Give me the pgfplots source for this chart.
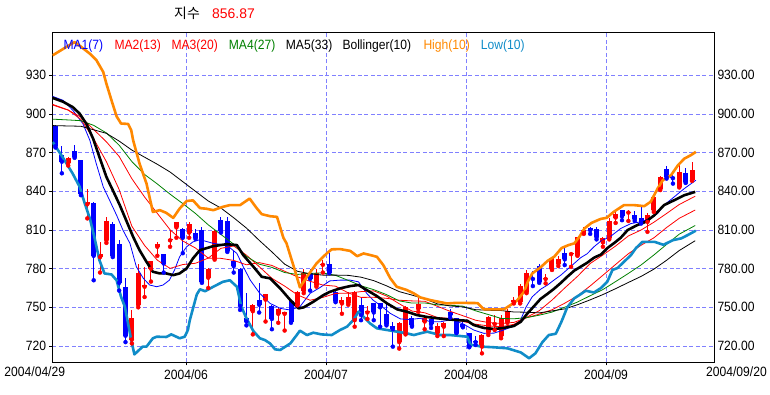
\documentclass[border=0pt]{standalone}
\usepackage{pgfplots}
\pgfplotsset{compat=1.18}
\usepackage{pgfplotstable}
\usepackage{fontspec}
\setmainfont{Liberation Sans}
\newfontfamily\labfont[FakeStretch=0.9]{Liberation Sans}
\newfontfamily\krfont{Noto Sans CJK KR}
\newcommand\tf{\labfont\fontsize{13.5}{15}\selectfont}
\definecolor{gridc}{RGB}{128,128,255}
\definecolor{maorange}{RGB}{255,136,0}
\definecolor{malow}{RGB}{16,140,200}
\definecolor{magreen}{RGB}{0,128,0}

% up candles (red): index open high low close
\pgfplotstableread{
i O H L C
2 862 866.5 860 866
5 830 842 819 832
7 789 801 777 791
8 802 820 800 817
12 725 748 722 742
13 752 784 750 777
14 766 781 758 767
15 780 786 770 786
16 797 801 790 799
18 802 810 797 803
19 812 816.5 804 816
21 808 816 804 815
24 773 780.5 765 780
25 788 810 787 809
31 747 752.5 729 752
33 756 760.5 739 760
35 745 749.5 738 749
36 745 746.5 732 746
38 752 763 751.5 762
39 763 780 761 777
41 767 780 766 777
42 783 787 777 784
45 753 758 745 756
46 753 762 752 758
47 740 762.5 735 762
49 746 751 741 747
54 723 739 718 738
55 730 751 729 750
57 749 757 746.5 752.5
58 739 742.5 733 741.5
60 730.3 738 727.7 735.5
61 735 738.5 727.7 738
67 719.5 729 714.3 728.5
68 730.6 743.3 728.5 742.2
69 737 744 732.4 738
70 727.7 744 726 741.5
71 738.8 748.5 738 747.4
72 754.3 758.2 753 756
73 754.3 768 753 766.5
74 762 779 761 776.8
77 772 776 768.6 773
78 779.4 789 779 788
79 784 789.5 782 787.2
81 791.3 793 781.4 792.3
82 790.5 804.5 790 804.2
83 807.5 812 807 810
86 800.4 804.7 797 803.5
87 803.5 819 802.7 817.1
88 819.7 825.3 815.5 822.8
90 823.5 825.3 817 824.2
93 816.3 823 808.6 821.5
94 825.4 836 824 835.7
95 841.7 852 841 851.2
98 843.5 861.6 843 855.1
100 848.6 862.9 848.1 856.87
}\upcandles

% down candles (blue)
\pgfplotstableread{
i O H L C
0 891 891.5 874 875
1 868 875 854 863
3 871 876 866 867
4 864 864.5 837 838
6 831 831.5 771 790
9 815 816 789 790
10 799 802 763 769
11 766 773 723 728
17 791 791.5 777 784
20 811 811.5 792 804
22 808 811 803 804
23 810 812 769 770
26 818 820 808 809
27 817 820 793 794
28 786 794 777 782
29 780 780.5 748 751
30 742 761 736 739
32 756 769 746 752
34 751 752 733 741
37 755 755.5 738 739
40 777 780 763 772
43 784 792 776.5 777
44 762 763 754 755
48 752 758 740 744
50 753 753.5 740 746
51 753 753.5 735 750
52 745 753 736 737
53 735.5 739 719.5 733
56 741.5 743 735 736
59 740.7 743 734 737
62 746.6 748.5 742 744
63 741.5 742 730 730.3
64 737 739 734.5 735
65 729.8 730.3 719 719.5
66 724 727.7 720.8 723
75 773 778.5 766.5 772
76 782 783.5 769 770
80 792.3 795.7 782.8 787.2
84 811.2 812.5 807 809.9
85 810.4 812.5 802.7 804.4
89 825.3 825.8 817.6 820.7
91 822 824.6 817 818.2
92 819.7 828 815 815.8
96 857.2 859.7 849.9 851.2
97 851.2 855.1 846 850.2
99 854.6 858.3 846.5 847.3
}\downcandles

\begin{document}
\begin{tikzpicture}
\path[use as bounding box] (0bp,0bp) rectangle (770bp,395bp);
\begin{axis}[
  at={(52.3bp,32.7bp)}, anchor=south west, scale only axis,
  width=662bp, height=330bp,
  xmin=-0.5, xmax=103.5, ymin=707.35, ymax=963.4,
  xtick={20.5,42.5,64.5,86.5},
  xticklabels={2004/06,2004/07,2004/08,2004/09},
  ytick={720,750,780,810,840,870,900,930},
  xtick pos=bottom, ytick pos=left,
  tick align=outside, major tick length=3bp,
  tick style={black, line width=0.8bp},
  xmajorgrids, ymajorgrids,
  major grid style={gridc, line width=0.8bp, dash pattern=on 4bp off 2.5bp},
  axis line style={line width=1.3bp},
  ticklabel style={font=\tf},
  xticklabel style={anchor=north, inner sep=0pt, yshift=-4.4bp},
  yticklabel style={anchor=east, inner sep=0pt, xshift=-3bp, /pgf/number format/assume math mode=true},
  clip=true,
]
% wicks
\addplot[only marks, mark=none, red, error bars/.cd, y dir=plus, y explicit, error mark=none,
  error bar style={line width=1bp, red}]
  table[x=i, y=L, y error plus expr={\thisrow{H}-\thisrow{L}}] {\upcandles};
\addplot[only marks, mark=none, blue, error bars/.cd, y dir=plus, y explicit, error mark=none,
  error bar style={line width=1bp, blue}]
  table[x=i, y=L, y error plus expr={\thisrow{H}-\thisrow{L}}] {\downcandles};
% bodies
\addplot[only marks, mark=none, red, error bars/.cd, y dir=plus, y explicit, error mark=none,
  error bar style={line width=5bp, red}]
  table[x=i, y=O, y error plus expr={\thisrow{C}-\thisrow{O}}] {\upcandles};
\addplot[only marks, mark=none, blue, error bars/.cd, y dir=plus, y explicit, error mark=none,
  error bar style={line width=5bp, blue}]
  table[x=i, y=C, y error plus expr={\thisrow{O}-\thisrow{C}}] {\downcandles};

% MA1(7)
\addplot[blue, line width=0.8bp] coordinates {
(-0.45,913.7) (1.2,910.6) (2.7,903) (4.3,892.6) (5.4,879.6) (6.4,861.6) (7.5,843.5) (8.5,833.1) (9.6,821.5) (10.6,809.9) (11.7,799.6) (12.7,781.5) (13.8,772.5) (14.8,767.3) (15.9,766) (16.9,767.3) (17.9,771.1) (18.7,778.9) (19.5,789.2) (20.6,797) (21.6,800.8) (22.7,802.5) (24.8,799.6) (26.9,798.3) (28.5,791.8) (29.5,781.5) (30.6,771.1) (32.1,760.8) (33.7,753.1) (35.3,749.2) (36.9,747.9) (38.4,750.5) (40,760.8) (41.6,765.5) (43.1,770.5) (44.7,771.1) (46.3,771.1) (47.6,769.8) (48.9,760.8) (49.9,755.6) (51.3,750.5) (52.6,745.3) (54.2,741) (55.7,740.5) (57.3,741.5) (58.9,738.8) (60.5,738.8) (62.2,740.5) (64.1,737) (65.7,732.4) (67.3,729.8) (68.9,730) (70.4,732.4) (72,735.5) (73.1,740.5) (73.9,750) (74.9,758.2) (76.2,764) (77.3,767.3) (78.3,771.1) (79.4,775) (80.9,781.5) (82.5,788.5) (83.5,791.5) (84.6,797) (85.7,801.5) (87.2,805) (88.8,811.2) (90.4,815) (91.9,816.3) (93.5,819) (94.6,822.8) (95.6,829.3) (97.2,835.7) (98.8,842.2) (100.6,848.6)};
% MA2(13)
\addplot[red, line width=0.8bp] coordinates {
(-0.45,907.5) (2,903.1) (4,895.8) (6,880.8) (8,863) (10,841.4) (12,812.9) (14,798) (16,786.6) (18,780.2) (20,783.2) (22,784.2) (24,788.2) (26,795.8) (28,797.6) (30,790.5) (32,781.6) (34,772.5) (36,766.5) (38,759.7) (40,755.5) (42,757.7) (44,760.8) (46,761) (48,762.2) (50,762.8) (52,758.8) (54,752.8) (56,747.1) (58,745.8) (60,742.1) (62,741.4) (64,739) (66,736.9) (68,735.6) (70,734.9) (72,736.8) (74,742.2) (76,747.4) (78,755.6) (80,765) (82,774) (84,784) (86,790.6) (88,797.6) (90,805.4) (92,810) (94,816) (96,822.8) (98,829.8) (100.5,836.2)};
% MA3(20)
\addplot[red, line width=0.8bp] coordinates {
(-0.45,907) (2,903) (4,897.6) (6,888) (8,878.4) (10,867.1) (12,849.8) (14,835.6) (16,822.9) (18,810.2) (20,801.5) (22,796) (24,788.2) (26,788) (28,786.4) (30,783) (32,784.7) (34,782.5) (36,778) (38,773.7) (40,770.2) (42,767.3) (44,766.4) (46,761.2) (48,757.7) (50,757.8) (52,757) (54,755.5) (56,755) (58,754.7) (60,750.8) (62,746.9) (64,743.5) (66,740) (68,738.2) (70,737.5) (72,738.3) (74,741.9) (76,744.7) (78,748.1) (80,753.2) (82,758.9) (84,766.6) (86,774.9) (88,783.3) (90,791.6) (92,798.2) (94,803.9) (96,811.9) (98,819.1) (100.5,825.5)};
% MA4(27)
\addplot[magreen, line width=0.8bp] coordinates {
(-0.45,896) (2,895.4) (4,894.8) (6,891.2) (8,885.3) (10,875.8) (12,863.1) (14,853.1) (16,845.7) (18,837.8) (20,830.5) (22,822.8) (24,814) (26,806.5) (28,799) (30,789.5) (32,783.5) (34,781) (36,777) (38,775.5) (40,776.4) (42,776.7) (44,774.8) (46,770.9) (48,766.7) (50,763.7) (52,759.9) (54,755) (56,753.3) (58,753.4) (60,751.9) (62,751.6) (64,750.9) (66,747.3) (68,744.4) (70,741.4) (72,741.1) (74,742) (76,743.9) (78,746.3) (80,750.1) (82,754.1) (84,759) (86,763.8) (88,770) (90,776.3) (92,782.9) (94,790.6) (96,798.8) (98,806.8) (100.5,813.5)};
% MA5(33)
\addplot[black, line width=0.8bp] coordinates {
(-0.45,891) (4,890.5) (8,885) (10,879) (12,872) (14,866.5) (16,861) (18,855) (20,847.5) (22,840) (24,832.5) (26,827) (28,819.5) (30,811.5) (32,802) (34,793) (36,783.5) (38,778) (40,776) (42,775) (44,775) (46,774.8) (48,773.4) (50,770.7) (52,766.7) (54,762.2) (56,759.5) (58,756.6) (60,752.7) (62,751.1) (64,750.3) (66,748.2) (68,747.7) (70,747.5) (72,746.4) (74,746.2) (76,745.7) (78,747.2) (80,748.8) (82,752) (84,755.8) (86,759.9) (88,764.5) (90,769.3) (92,774) (94,779.6) (96,786.5) (98,794.1) (100.5,801.7)};
% Bollinger(10) middle
\addplot[black, line width=2.6bp, line join=round] coordinates {
(-0.45,912.5) (1.2,909.5) (2.7,905.4) (3.8,900.3) (4.9,892) (5.9,881) (6.9,866.7) (8,851.2) (9,840.9) (10.1,829.3) (11.1,817.6) (12.2,804.7) (13.2,794.4) (14.3,785.3) (15.3,777.6) (16.4,776.3) (17.4,776.3) (18.5,775) (19.5,776.3) (20.6,780.2) (21.6,788) (22.7,794.4) (24.8,797.5) (26.9,799) (28.5,798.3) (29.5,790.5) (31.1,781.5) (32.4,773.7) (33.7,772.5) (35.3,764.7) (36.9,755.6) (38.2,749.2) (39,750) (40.5,754.3) (42.1,759.5) (43.1,762) (44.7,764.7) (46.3,766.5) (47.6,767.3) (48.9,763.4) (50.5,758.7) (52.1,753) (53.7,748.4) (55.2,746.6) (56.8,744) (58.4,742.5) (60,741.5) (61.5,740.7) (63.1,740.1) (64.7,739.6) (65.7,736.3) (67.3,734) (68.9,733.2) (70.4,734) (72,735.5) (73.1,738.8) (74.1,745) (75.2,751) (76.2,756.5) (77.3,760.5) (78.3,764.3) (79.4,769) (80.4,773.7) (81.5,778.5) (82.5,781.5) (83.5,784.5) (84.6,788.5) (85.7,791) (86.7,796) (87.8,800) (88.8,804) (89.9,810) (91.4,813.8) (92.7,816.3) (94.1,821.5) (95.6,829.3) (97.2,833.1) (98.8,837) (100.5,839.6)};
% High(10)
\addplot[maorange, line width=2.6bp, line join=round] coordinates {
(-0.45,945.5) (1.7,952) (3,955.8) (3.8,953) (5.4,946.8) (6.4,942) (7.5,932.6) (8,923.5) (8.8,910.6) (9.6,898.2) (10.3,892.6) (11.4,892.3) (11.9,887.4) (12.2,879.6) (13.2,861.6) (14.3,846) (15.3,824) (16.4,825.4) (17.4,823.3) (18.5,819.4) (19.5,826.6) (20.6,832.5) (21.6,833) (22.7,827) (23.7,826.5) (24.8,825.4) (26.3,828) (27.4,829.3) (29,829.3) (30.5,834.4) (31.6,827) (32.4,822.3) (33.7,820.7) (34.8,820.2) (35.8,804) (36.3,799.6) (37.6,778.9) (38.4,765.5) (39.5,773.7) (41,784) (42.6,791.8) (43.4,795) (44.7,795.2) (46.3,793.8) (47.4,789.7) (48.4,791.8) (49.5,790.5) (50.5,789.2) (51.5,782.8) (52.6,772.5) (53.6,766) (55.2,763.4) (56.3,760.8) (57.3,757.7) (58.9,755.6) (60.5,754) (61.5,753) (63.1,753.5) (66.3,753.3) (67.3,748.5) (69.4,748.4) (70.5,748.6) (71.5,751.8) (72.5,755.2) (73.6,762) (74.2,769.8) (74.9,776.3) (76.2,781) (77.3,786) (78.4,789.5) (79.5,796) (80.6,798.3) (81.5,799.6) (82.3,804.7) (83.1,811.2) (84.2,815.5) (85.6,818.5) (86.6,819.5) (87.7,824.1) (89.3,829.3) (90.9,829.3) (92.5,828.5) (93.5,831.9) (94.6,842.2) (95.4,848.6) (96.7,852.5) (97.8,860.3) (98.8,865.4) (99.8,868) (100.6,870.6)};
% Low(10)
\addplot[malow, line width=2.6bp, line join=round] coordinates {
(-0.45,878.3) (1.1,866.7) (2.7,853.8) (3.8,843.5) (4.6,830.6) (5.4,819) (6.1,804.7) (6.9,786.6) (7.7,776.3) (8.8,775.5) (9.6,771) (10.3,758.2) (10.9,750.5) (11.4,737.6) (11.9,724.6) (12.4,713.5) (13.7,719.5) (14.3,719.5) (15.3,726) (15.9,727.2) (17.4,727) (18.2,729) (19.5,726) (20.3,727.2) (20.8,732.4) (21.1,740) (22.2,760) (22.7,764) (23.5,762.5) (24.8,766) (26.3,769.8) (27.4,771) (28.5,766) (29.2,750.5) (30,741.5) (31.1,731.5) (32.1,726) (32.9,724.6) (33.7,722) (34.5,717.4) (35.3,716.9) (36.9,722) (37.9,728.5) (38.4,731.9) (39.5,728.5) (40.5,730.3) (41.8,729) (43.4,728.5) (44.7,732.4) (45.8,735) (46.8,740.1) (47.6,746.6) (48.4,742.7) (49.4,737.6) (50.5,733.7) (52.1,732.4) (53.7,731.1) (55.2,729.8) (56.3,728.5) (57.3,729.8) (58.4,731.1) (59.4,729.8) (60.5,728.5) (62,728.5) (64.7,727.2) (65.2,721) (67,719.5) (68.9,719) (71,718.2) (73.1,715) (74.4,710.5) (75.4,714.3) (76.5,723) (77.5,728.5) (78.6,729.5) (79.5,739) (80.4,750) (81.5,757) (82.3,759.5) (83.3,762.9) (84.6,761.5) (85.7,765) (86.7,770) (87.5,779) (88.3,780.5) (89.3,785.3) (90.4,790.5) (91.2,796) (92.2,800.8) (94.1,800.8) (95.5,798.5) (97,802.1) (98.3,803.5) (99.3,806) (100.6,809.5)};
\end{axis}

% right-hand value axis
\begin{axis}[
  at={(52.3bp,32.7bp)}, anchor=south west, scale only axis,
  width=662bp, height=330bp,
  xmin=-0.5, xmax=103.5, ymin=707.35, ymax=963.4,
  hide x axis, axis y line*=right,
  ytick={720,750,780,810,840,870,900,930},
  major tick length=0pt,
  axis line style={line width=1.3bp},
  yticklabel style={font=\tf, anchor=west, inner sep=0pt, xshift=3bp,
    /pgf/number format/.cd, fixed, fixed zerofill, precision=2, assume math mode=true},
]
\addplot[draw=none] coordinates {(0,800) (1,800)};
\end{axis}

% title
\node[anchor=base west, inner sep=0pt] at (174bp,376.7bp) {\krfont\fontsize{14}{16}\selectfont 지수};
\node[anchor=base west, inner sep=0pt, text=red] at (212bp,376.7bp) {\fontsize{14}{16}\selectfont 856.87};

% legend
\node[anchor=base west, inner sep=0pt, text=blue] at (63.3bp,345bp) {\tf MA1(7)};
\node[anchor=base west, inner sep=0pt, text=red] at (114.3bp,345bp) {\tf MA2(13)};
\node[anchor=base west, inner sep=0pt, text=red] at (171.3bp,345bp) {\tf MA3(20)};
\node[anchor=base west, inner sep=0pt, text=magreen] at (228.7bp,345bp) {\tf MA4(27)};
\node[anchor=base west, inner sep=0pt, text=black] at (285.7bp,345bp) {\tf MA5(33)};
\node[anchor=base west, inner sep=0pt, text=black] at (342.3bp,345bp) {\tf Bollinger(10)};
\node[anchor=base west, inner sep=0pt, text=maorange] at (423.3bp,345bp) {\tf High(10)};
\node[anchor=base west, inner sep=0pt, text=malow] at (480.7bp,345bp) {\tf Low(10)};

% end dates
\node[anchor=north west, inner sep=0pt] at (4.3bp,28.3bp) {\tf 2004/04/29};
\node[anchor=north west, inner sep=0pt] at (706bp,28.3bp) {\tf 2004/09/20};
\end{tikzpicture}
\end{document}
